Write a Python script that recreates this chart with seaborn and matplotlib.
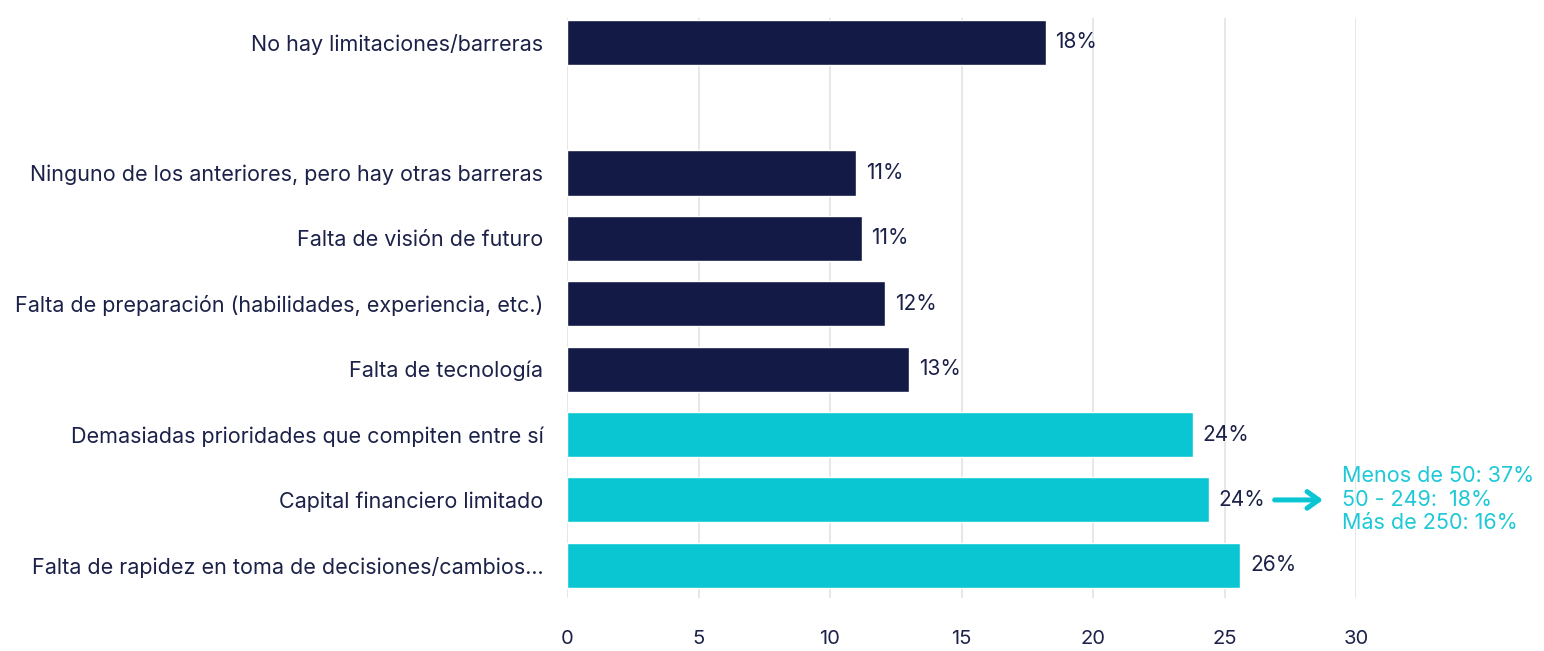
import matplotlib
matplotlib.use("Agg")
import matplotlib.pyplot as plt
import seaborn as sns
import pandas as pd

# Barreras para la transformación (% de empresas)
categorias = [
    "No hay limitaciones/barreras",
    "Ninguno de los anteriores, pero hay otras barreras",
    "Falta de visión de futuro",
    "Falta de preparación (habilidades, experiencia, etc.)",
    "Falta de tecnología",
    "Demasiadas prioridades que compiten entre sí",
    "Capital financiero limitado",
    "Falta de rapidez en toma de decisiones/cambios...",
]
valores = [18.2, 11.0, 11.2, 12.1, 13.0, 23.8, 24.4, 25.6]
etiquetas = ["18%", "11%", "11%", "12%", "13%", "24%", "24%", "26%"]
destacadas = [False, False, False, False, False, True, True, True]

detalle_capital = ["Menos de 50: 37%", "50 - 249:  18%", "Más de 250: 16%"]
x_ticks = [0, 5, 10, 15, 20, 25, 30]

NAVY = "#121a45"
CYAN = "#09c6d2"
CYAN_TEXT = "#1ec8d6"
TEXT = "#1b2148"
GRID = "#e3e3e3"

sns.set_theme(style="white")
plt.rcParams["font.family"] = ["Inter", "DejaVu Sans"]

df = pd.DataFrame({"categoria": categorias, "valor": valores})
palette = {c: (CYAN if d else NAVY) for c, d in zip(categorias, destacadas)}
# blank slot separates the first bar from the rest
orden = [categorias[0], ""] + categorias[1:]

fig = plt.figure(figsize=(15.44, 6.51), dpi=100)
ax = fig.add_axes([567 / 1544, 1 - 598 / 651, (1356 - 567) / 1544, (598 - 18) / 651])

sns.barplot(data=df, x="valor", y="categoria", hue="categoria", order=orden,
            palette=palette, legend=False, width=0.69, saturation=1, ax=ax)

ax.set_xlim(0, 30)
ax.set_ylim(8.5, -0.37)
ax.set_xticks(x_ticks)
ax.set_xticklabels([str(t) for t in x_ticks])
ax.set_xlabel("")
ax.set_ylabel("")
ax.xaxis.grid(True, color=GRID, linewidth=1.2)
ax.set_axisbelow(True)
for s in ax.spines.values():
    s.set_visible(False)
ax.tick_params(axis="x", length=0, pad=23, labelsize=14.5, labelcolor=TEXT)
ax.tick_params(axis="y", length=0, pad=17, labelsize=15.5, labelcolor=TEXT)

# value labels at the end of each bar
for cat, v, lab in zip(categorias, valores, etiquetas):
    y = orden.index(cat)
    ax.annotate(lab, (v, y), xytext=(7, 0), textcoords="offset points",
                ha="left", va="center", fontsize=15, color=TEXT)

# breakdown of "Capital financiero limitado" by company size
y_cap = orden.index("Capital financiero limitado")
ax.annotate("", xy=(28.85, y_cap), xytext=(26.8, y_cap),
            arrowprops=dict(arrowstyle="->,head_length=0.7,head_width=0.5",
                            color=CYAN, lw=3.6), annotation_clip=False)
ax.text(29.45, y_cap, "\n".join(detalle_capital), ha="left", va="center",
        fontsize=15.5, color=CYAN_TEXT, linespacing=1.22, clip_on=False)

fig.savefig("out.png", dpi=100)
